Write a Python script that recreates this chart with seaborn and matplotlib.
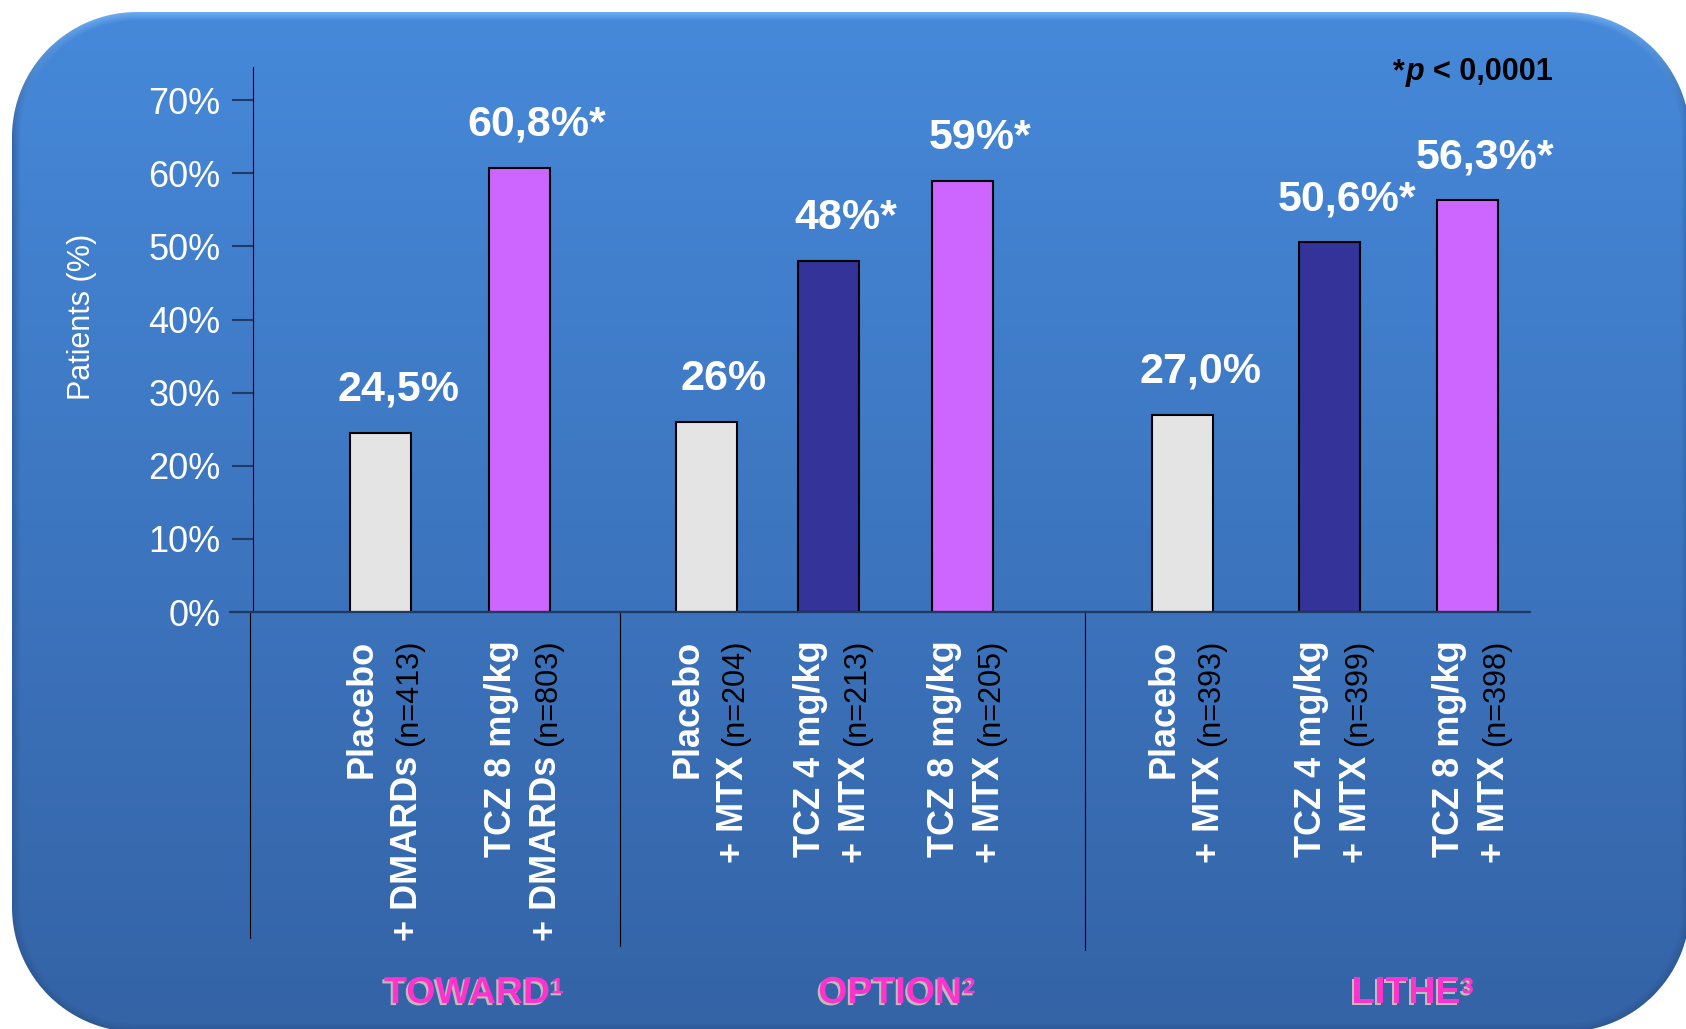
import numpy as np
import pandas as pd
import matplotlib
matplotlib.use("Agg")
import matplotlib.pyplot as plt
import matplotlib.patheffects as pe
from matplotlib import transforms
import seaborn as sns

# ------------------------------------------------------------------
# data
# ------------------------------------------------------------------
study = ["TOWARD", "TOWARD", "OPTION", "OPTION", "OPTION", "LITHE", "LITHE", "LITHE"]
arm = ["Placebo", "TCZ 8", "Placebo", "TCZ 4", "TCZ 8", "Placebo", "TCZ 4", "TCZ 8"]
arm_line1 = ["Placebo", "TCZ 8 mg/kg", "Placebo", "TCZ 4 mg/kg", "TCZ 8 mg/kg",
             "Placebo", "TCZ 4 mg/kg", "TCZ 8 mg/kg"]
arm_line2 = ["+ DMARDs", "+ DMARDs", "+ MTX", "+ MTX", "+ MTX", "+ MTX", "+ MTX", "+ MTX"]
n_patients = [413, 803, 204, 213, 205, 393, 399, 398]
responders = [24.5, 60.8, 26.0, 48.0, 59.0, 27.0, 50.6, 56.3]
value_labels = ["24,5%", "60,8%*", "26%", "48%*", "59%*", "27,0%", "50,6%*", "56,3%*"]
study_names = ["TOWARD", "OPTION", "LITHE"]
study_refs = ["1", "2", "3"]
yticks_pct = [0, 10, 20, 30, 40, 50, 60, 70]
p_note = "0,0001"

# ------------------------------------------------------------------
# layout (pixel units of a 1686 x 1029 canvas)
# ------------------------------------------------------------------
W, H = 1686, 1029
bar_x = [380, 519, 706, 828, 962, 1182, 1329, 1467]
sep_x = [250, 620, 1085]
sep_end = [938, 946, 950]
study_x = [467, 890, 1406]
arm_colors = {"Placebo": "#E4E4E4", "TCZ 4": "#333399", "TCZ 8": "#CC66FF"}
pink = "#FF33CC"


def fy(ypx):
    return 1 - ypx / H


sns.set_style("white")
plt.rcParams["font.family"] = ["Liberation Sans", "DejaVu Sans"]

fig = plt.figure(figsize=(W / 100, H / 100), dpi=100)

# ------------------------------------------------------------------
# rounded gradient panel behind the chart
# ------------------------------------------------------------------
yy, xx = np.mgrid[0:H, 0:W] + 0.5
x0, y0, x1, y1, r = 12, 12, 1690, 1032, 125
cx, cy = (x0 + x1) / 2, (y0 + y1) / 2
qx = np.abs(xx - cx) - ((x1 - x0) / 2 - r)
qy = np.abs(yy - cy) - ((y1 - y0) / 2 - r)
d = np.hypot(np.maximum(qx, 0), np.maximum(qy, 0)) + np.minimum(np.maximum(qx, qy), 0) - r
t = np.clip((yy - y0) / (y1 - y0), 0, 1)[..., None]
top = np.array([0x46, 0x89, 0xDA]) / 255
bot = np.array([0x34, 0x63, 0xA6]) / 255
col = top * (1 - t) + bot * t
gy, gx = np.gradient(d)
ny = gy / (np.hypot(gx, gy) + 1e-9)
edge = np.clip(1 + d / 9, 0, 1)
up = np.clip(-ny, 0, 1)
w_l = (edge * up)[..., None] * 0.8
w_d = (edge * (1 - up))[..., None] * 0.6
col = col * (1 - w_l) + np.array([0x78, 0xB8, 0xF8]) / 255 * w_l
col = col * (1 - w_d) + np.array([0x28, 0x50, 0x88]) / 255 * w_d
alpha = np.clip(0.5 - d, 0, 1)[..., None]
img = col * alpha + (1 - alpha)

ax_bg = fig.add_axes([0, 0, 1, 1])
ax_bg.imshow(img, extent=(0, W, H, 0), interpolation="nearest", aspect="auto")
ax_bg.axis("off")

# ------------------------------------------------------------------
# bars
# ------------------------------------------------------------------
ax = fig.add_axes([253 / W, fy(612), (1530 - 253) / W, (612 - 67) / H])
ax.patch.set_alpha(0)

df = pd.DataFrame({"x": bar_x, "pct": responders, "arm": arm, "study": study})
sns.barplot(data=df, x="x", y="pct", hue="arm", palette=arm_colors, native_scale=True,
            dodge=False, width=0.5, saturation=1, edgecolor="black", linewidth=1.5,
            errorbar=None, legend=False, ax=ax)

ax.set_xlim(253, 1530)
ax.set_ylim(0, 74.55)
ax.set_xticks([])
ax.set_yticks(yticks_pct)
ax.set_yticklabels([f"{v}%" for v in yticks_pct])
ax.tick_params(axis="y", length=15, width=1.5, color="#1F3B66", pad=8.5,
               labelsize=26, labelcolor="white", direction="out", left=True)
ax.set_xlabel("")
ax.set_ylabel("")
for s in ["top", "right", "bottom"]:
    ax.spines[s].set_visible(False)
ax.spines["left"].set_color("black")
ax.spines["left"].set_linewidth(0.8)

# x axis line, sticking out on the left
ax.plot([230, 1530], [0, 0], color="#1F3A60", lw=1.6, clip_on=False, zorder=5)

blend = transforms.blended_transform_factory(ax.transData, fig.transFigure)
for sx, se in zip(sep_x, sep_end):
    ax.plot([sx, sx], [fy(613), fy(se)], color="black", lw=0.8,
            transform=blend, clip_on=False)

# value labels
for x, v, lbl in zip(bar_x, responders, value_labels):
    ax.annotate(lbl, xy=(x, v), xytext=(13, 31), textcoords="offset points",
                ha="center", va="center", fontsize=31, fontweight="bold",
                color="white", annotation_clip=False)

# rotated arm labels
for x, l1, l2, n in zip(bar_x, arm_line1, arm_line2, n_patients):
    b1 = x - 8
    b2 = b1 + 45
    ax.text(b1, fy(640), l1, transform=blend, rotation=90, rotation_mode="anchor",
            ha="right", va="baseline", fontsize=26, fontweight="bold", color="white",
            clip_on=False)
    tn = ax.text(b2, fy(640), f"(n={n})", transform=blend, rotation=90,
                 rotation_mode="anchor", ha="right", va="baseline", fontsize=22,
                 color="black", clip_on=False)
    ax.annotate(l2, xy=(b2, 0), xycoords=("data", tn), xytext=(0, -7),
                textcoords="offset points", rotation=90, rotation_mode="anchor",
                ha="right", va="baseline", fontsize=26, fontweight="bold",
                color="white", annotation_clip=False)

# study names under each group
shadow = [pe.withSimplePatchShadow(offset=(-1.5, -1.5), shadow_rgbFace="#BDBDBD", alpha=1)]
for sx, name, ref in zip(study_x, study_names, study_refs):
    g = fig.text(sx / W, fy(1003), name, ha="center", va="baseline", fontsize=27,
                 fontweight="bold", color=pink, path_effects=shadow)
    ax.annotate(ref, xy=(1, fy(1003)), xycoords=(g, "figure fraction"),
                xytext=(1, 7), textcoords="offset points", ha="left",
                va="baseline", fontsize=16, fontweight="bold", color=pink,
                path_effects=shadow, annotation_clip=False)

# y axis title
fig.text(82 / W, fy(317), "Patients (%)", rotation=90, ha="center", va="center",
         fontsize=22, color="white")

# significance note
t_star = fig.text(1393 / W, fy(80), "*", ha="left", va="baseline", fontsize=22,
                  fontweight="bold", color="black")
t_p = ax.annotate("p", xy=(1, fy(80)), xycoords=(t_star, "figure fraction"),
                  xytext=(1, 0), textcoords="offset points", ha="left", va="baseline",
                  fontsize=22, fontweight="bold", style="italic", color="black",
                  annotation_clip=False)
ax.annotate("< " + p_note, xy=(1, fy(80)), xycoords=(t_p, "figure fraction"),
            xytext=(6, 0), textcoords="offset points", ha="left", va="baseline",
            fontsize=22, fontweight="bold", color="black", annotation_clip=False)

plt.savefig("out.png", dpi=100)
